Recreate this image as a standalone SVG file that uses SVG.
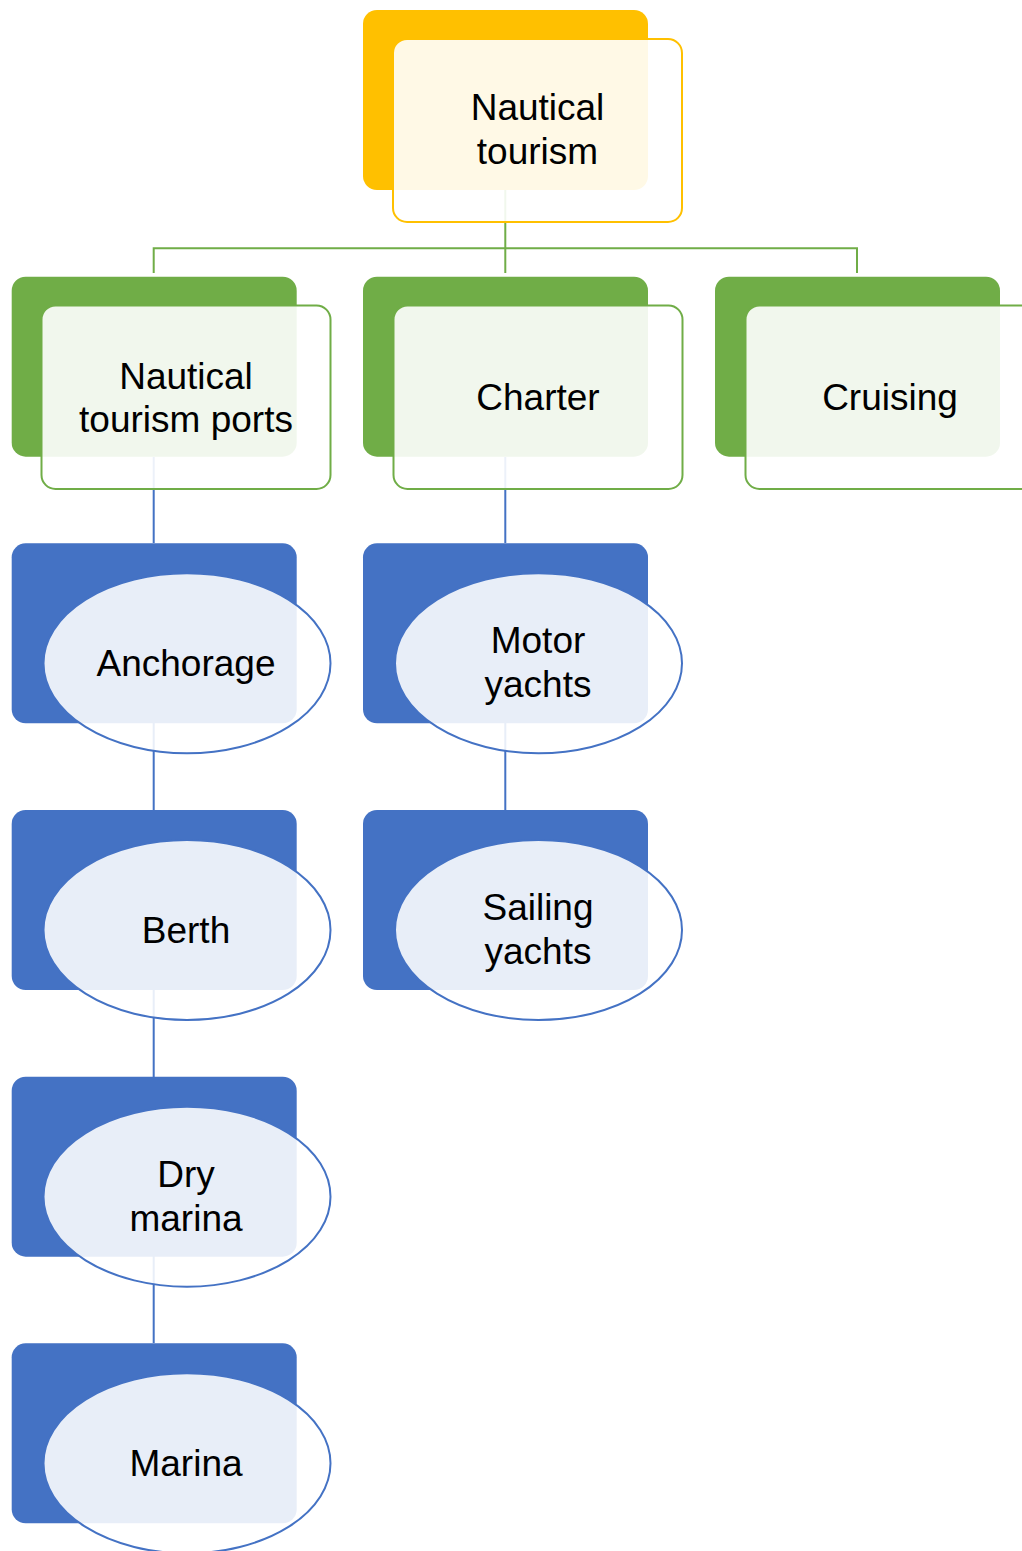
<svg xmlns="http://www.w3.org/2000/svg" width="1022" height="1551" viewBox="0 0 1022 1551">
<style>
text{font-family:"Liberation Sans",Arial,sans-serif;font-size:37px;fill:#000;text-anchor:middle}
.by{fill:#FFC000}.bg{fill:#70AD47}.bb{fill:#4472C4}
.fy{fill:#fff;fill-opacity:0.9;stroke:#FFC000;stroke-width:2}
.fg{fill:#fff;fill-opacity:0.9;stroke:#70AD47;stroke-width:2}
.fb{fill:#fff;fill-opacity:0.88;stroke:#4472C4;stroke-width:2}
.cg{fill:none;stroke:#70AD47;stroke-width:2}
.cb{fill:none;stroke:#4472C4;stroke-width:2}
</style>
<g id="connectors">
<path class="cg" d="M505.3 190V248.3M153.7 273V248.3H857V273M505.3 248.3V273"/>
<path class="cb" d="M153.7 457V543M153.7 723V810M153.7 990V1077M153.7 1256V1343M505.3 457V543M505.3 723V810"/>
</g>
<g id="n-nautical-tourism">
<rect class="by" x="363" y="10" width="285" height="180" rx="14"/>
<rect class="fy" x="393" y="39" width="289" height="183" rx="14"/>
<text x="537.5" y="120">Nautical</text>
<text x="537.5" y="164">tourism</text>
</g>
<g id="n-ports">
<rect class="bg" x="11.7" y="276.7" width="285" height="180" rx="14"/>
<rect class="fg" x="41.5" y="305.5" width="289" height="183.5" rx="14"/>
<text x="186" y="388.5">Nautical</text>
<text x="186" y="431.5">tourism ports</text>
</g>
<g id="n-charter">
<rect class="bg" x="363" y="276.7" width="285" height="180" rx="14"/>
<rect class="fg" x="393.5" y="305.5" width="289" height="183.5" rx="14"/>
<text x="538" y="410">Charter</text>
</g>
<g id="n-cruising">
<rect class="bg" x="715" y="276.7" width="285" height="180" rx="14"/>
<rect class="fg" x="745.5" y="305.5" width="289" height="183.5" rx="14"/>
<text x="890" y="410">Cruising</text>
</g>
<g id="n-anchorage">
<rect class="bb" x="11.7" y="543.3" width="285" height="180" rx="14"/>
<ellipse class="fb" cx="187" cy="663.3" rx="143.5" ry="90"/>
<text x="186" y="675.5">Anchorage</text>
</g>
<g id="n-berth">
<rect class="bb" x="11.7" y="810" width="285" height="180" rx="14"/>
<ellipse class="fb" cx="187" cy="930" rx="143.5" ry="90"/>
<text x="186" y="942.5">Berth</text>
</g>
<g id="n-dry-marina">
<rect class="bb" x="11.7" y="1076.7" width="285" height="180" rx="14"/>
<ellipse class="fb" cx="187" cy="1196.7" rx="143.5" ry="90"/>
<text x="186" y="1186.5">Dry</text>
<text x="186" y="1230.5">marina</text>
</g>
<g id="n-marina">
<rect class="bb" x="11.7" y="1343.3" width="285" height="180" rx="14"/>
<ellipse class="fb" cx="187" cy="1463.3" rx="143.5" ry="90"/>
<text x="186" y="1475.5">Marina</text>
</g>
<g id="n-motor-yachts">
<rect class="bb" x="363" y="543.3" width="285" height="180" rx="14"/>
<ellipse class="fb" cx="538.5" cy="663.3" rx="143.5" ry="90"/>
<text x="538" y="652.5">Motor</text>
<text x="538" y="696.5">yachts</text>
</g>
<g id="n-sailing-yachts">
<rect class="bb" x="363" y="810" width="285" height="180" rx="14"/>
<ellipse class="fb" cx="538.5" cy="930" rx="143.5" ry="90"/>
<text x="538" y="919.5">Sailing</text>
<text x="538" y="963.5">yachts</text>
</g>
</svg>
